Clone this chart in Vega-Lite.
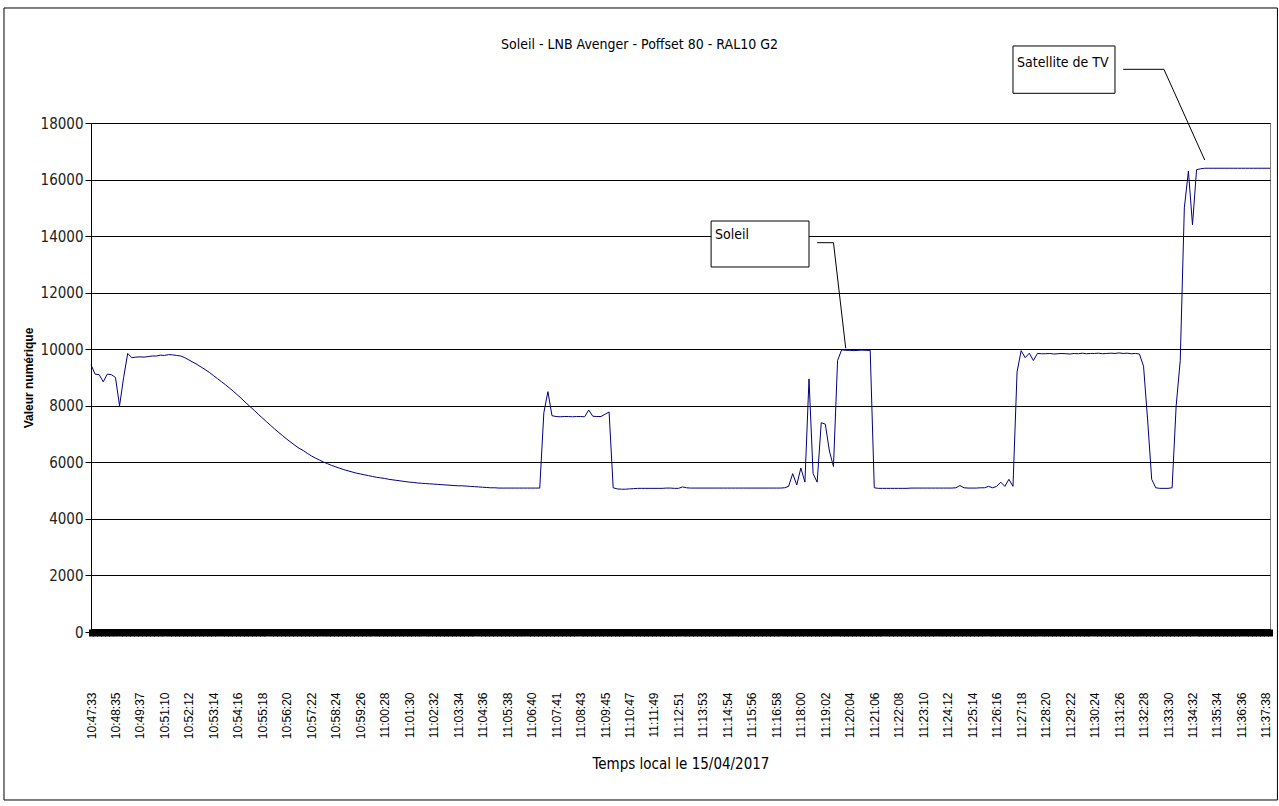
{
  "$schema": "https://vega.github.io/schema/vega-lite/v6.json",
  "width": 1179,
  "height": 509,
  "autosize": {"type": "none"},
  "padding": {"left": 91, "top": 123, "right": 9, "bottom": 174},
  "background": "white",
  "config": {
    "view": {"stroke": "#808080", "strokeWidth": 1},
    "font": "Liberation Sans"
  },
  "title": {
    "text": "Soleil - LNB Avenger - Poffset 80 - RAL10 G2",
    "anchor": "middle",
    "frame": "group",
    "offset": 0,
    "dx": -41,
    "dy": 45,
    "font": "'Liberation Sans Narrow', 'DejaVu Sans Condensed', sans-serif",
    "fontSize": 14,
    "fontWeight": "normal",
    "color": "#000"
  },
  "datasets": {
    "series": [
      {"t":"10:47:33","v":9450},{"t":"10:47:43","v":9120},{"t":"10:47:54","v":9100},{"t":"10:48:04","v":8850},{"t":"10:48:14","v":9120},{"t":"10:48:25","v":9100},
      {"t":"10:48:35","v":9000},{"t":"10:48:45","v":8000},{"t":"10:48:56","v":9000},{"t":"10:49:06","v":9850},{"t":"10:49:16","v":9700},{"t":"10:49:27","v":9720},
      {"t":"10:49:37","v":9730},{"t":"10:49:53","v":9720},{"t":"10:50:08","v":9740},{"t":"10:50:24","v":9760},{"t":"10:50:39","v":9760},{"t":"10:50:55","v":9790},
      {"t":"10:51:10","v":9780},{"t":"10:51:20","v":9810},{"t":"10:51:31","v":9800},{"t":"10:51:41","v":9780},{"t":"10:51:51","v":9760},{"t":"10:52:02","v":9700},
      {"t":"10:52:12","v":9620},{"t":"10:52:22","v":9540},{"t":"10:52:33","v":9460},{"t":"10:52:43","v":9370},{"t":"10:52:53","v":9280},{"t":"10:53:04","v":9180},
      {"t":"10:53:14","v":9070},{"t":"10:53:24","v":8960},{"t":"10:53:35","v":8850},{"t":"10:53:45","v":8740},{"t":"10:53:55","v":8620},{"t":"10:54:06","v":8500},
      {"t":"10:54:16","v":8370},{"t":"10:54:26","v":8240},{"t":"10:54:37","v":8100},{"t":"10:54:47","v":7970},{"t":"10:54:57","v":7840},{"t":"10:55:08","v":7700},
      {"t":"10:55:18","v":7570},{"t":"10:55:28","v":7440},{"t":"10:55:39","v":7310},{"t":"10:55:49","v":7180},{"t":"10:55:59","v":7060},{"t":"10:56:10","v":6940},
      {"t":"10:56:20","v":6820},{"t":"10:56:30","v":6710},{"t":"10:56:41","v":6600},{"t":"10:56:51","v":6500},{"t":"10:57:01","v":6420},{"t":"10:57:12","v":6320},
      {"t":"10:57:22","v":6230},{"t":"10:57:32","v":6150},{"t":"10:57:43","v":6080},{"t":"10:57:53","v":6010},{"t":"10:58:03","v":5950},{"t":"10:58:14","v":5890},
      {"t":"10:58:24","v":5840},{"t":"10:58:34","v":5790},{"t":"10:58:45","v":5740},{"t":"10:58:55","v":5700},{"t":"10:59:05","v":5660},{"t":"10:59:16","v":5620},
      {"t":"10:59:26","v":5590},{"t":"10:59:36","v":5560},{"t":"10:59:47","v":5530},{"t":"10:59:57","v":5500},{"t":"11:00:07","v":5470},{"t":"11:00:18","v":5450},
      {"t":"11:00:28","v":5430},{"t":"11:00:38","v":5400},{"t":"11:00:49","v":5380},{"t":"11:00:59","v":5360},{"t":"11:01:09","v":5340},{"t":"11:01:20","v":5320},
      {"t":"11:01:30","v":5300},{"t":"11:01:40","v":5290},{"t":"11:01:51","v":5270},{"t":"11:02:01","v":5260},{"t":"11:02:11","v":5250},{"t":"11:02:22","v":5240},
      {"t":"11:02:32","v":5230},{"t":"11:02:42","v":5220},{"t":"11:02:53","v":5210},{"t":"11:03:03","v":5200},{"t":"11:03:13","v":5190},{"t":"11:03:24","v":5180},
      {"t":"11:03:34","v":5170},{"t":"11:03:44","v":5170},{"t":"11:03:55","v":5160},{"t":"11:04:05","v":5150},{"t":"11:04:15","v":5140},{"t":"11:04:26","v":5130},
      {"t":"11:04:36","v":5120},{"t":"11:04:46","v":5110},{"t":"11:04:57","v":5100},{"t":"11:05:07","v":5100},{"t":"11:05:17","v":5090},{"t":"11:05:28","v":5090},
      {"t":"11:05:38","v":5090},{"t":"11:05:48","v":5090},{"t":"11:05:59","v":5090},{"t":"11:06:09","v":5090},{"t":"11:06:19","v":5090},{"t":"11:06:30","v":5090},
      {"t":"11:06:40","v":5090},{"t":"11:06:50","v":5090},{"t":"11:07:00","v":5090},{"t":"11:07:11","v":7750},{"t":"11:07:21","v":8500},{"t":"11:07:31","v":7650},
      {"t":"11:07:41","v":7620},{"t":"11:07:51","v":7610},{"t":"11:08:02","v":7620},{"t":"11:08:12","v":7620},{"t":"11:08:22","v":7610},{"t":"11:08:33","v":7620},
      {"t":"11:08:43","v":7620},{"t":"11:08:53","v":7610},{"t":"11:09:04","v":7850},{"t":"11:09:14","v":7630},{"t":"11:09:24","v":7620},{"t":"11:09:35","v":7620},
      {"t":"11:09:45","v":7700},{"t":"11:09:55","v":7780},{"t":"11:10:06","v":5100},{"t":"11:10:16","v":5060},{"t":"11:10:26","v":5050},{"t":"11:10:37","v":5050},
      {"t":"11:10:47","v":5060},{"t":"11:10:57","v":5070},{"t":"11:11:08","v":5080},{"t":"11:11:18","v":5080},{"t":"11:11:28","v":5080},{"t":"11:11:39","v":5080},
      {"t":"11:11:49","v":5080},{"t":"11:11:59","v":5080},{"t":"11:12:10","v":5080},{"t":"11:12:20","v":5090},{"t":"11:12:30","v":5090},{"t":"11:12:41","v":5080},
      {"t":"11:12:51","v":5080},{"t":"11:13:01","v":5130},{"t":"11:13:12","v":5100},{"t":"11:13:22","v":5090},{"t":"11:13:32","v":5090},{"t":"11:13:43","v":5090},
      {"t":"11:13:53","v":5090},{"t":"11:14:03","v":5090},{"t":"11:14:13","v":5090},{"t":"11:14:24","v":5090},{"t":"11:14:34","v":5090},{"t":"11:14:44","v":5090},
      {"t":"11:14:54","v":5090},{"t":"11:15:04","v":5090},{"t":"11:15:15","v":5090},{"t":"11:15:25","v":5090},{"t":"11:15:35","v":5090},{"t":"11:15:46","v":5090},
      {"t":"11:15:56","v":5090},{"t":"11:16:06","v":5090},{"t":"11:16:17","v":5090},{"t":"11:16:27","v":5090},{"t":"11:16:37","v":5090},{"t":"11:16:48","v":5090},
      {"t":"11:16:58","v":5090},{"t":"11:17:08","v":5090},{"t":"11:17:19","v":5100},{"t":"11:17:29","v":5150},{"t":"11:17:39","v":5600},{"t":"11:17:50","v":5200},
      {"t":"11:18:00","v":5800},{"t":"11:18:10","v":5300},{"t":"11:18:21","v":8950},{"t":"11:18:31","v":5600},{"t":"11:18:41","v":5300},{"t":"11:18:52","v":7400},
      {"t":"11:19:02","v":7350},{"t":"11:19:12","v":6400},{"t":"11:19:23","v":5850},{"t":"11:19:33","v":9600},{"t":"11:19:43","v":9980},{"t":"11:19:54","v":9960},
      {"t":"11:20:04","v":9960},{"t":"11:20:14","v":9950},{"t":"11:20:25","v":9960},{"t":"11:20:35","v":9970},{"t":"11:20:45","v":9960},{"t":"11:20:56","v":9960},
      {"t":"11:21:06","v":5100},{"t":"11:21:16","v":5080},{"t":"11:21:27","v":5080},{"t":"11:21:37","v":5080},{"t":"11:21:47","v":5080},{"t":"11:21:58","v":5080},
      {"t":"11:22:08","v":5080},{"t":"11:22:18","v":5080},{"t":"11:22:29","v":5080},{"t":"11:22:39","v":5090},{"t":"11:22:49","v":5090},{"t":"11:23:00","v":5090},
      {"t":"11:23:10","v":5090},{"t":"11:23:20","v":5090},{"t":"11:23:31","v":5090},{"t":"11:23:41","v":5090},{"t":"11:23:51","v":5090},{"t":"11:24:02","v":5090},
      {"t":"11:24:12","v":5090},{"t":"11:24:22","v":5090},{"t":"11:24:33","v":5100},{"t":"11:24:43","v":5180},{"t":"11:24:53","v":5100},{"t":"11:25:04","v":5090},
      {"t":"11:25:14","v":5090},{"t":"11:25:24","v":5090},{"t":"11:25:35","v":5100},{"t":"11:25:45","v":5100},{"t":"11:25:55","v":5150},{"t":"11:26:06","v":5100},
      {"t":"11:26:16","v":5150},{"t":"11:26:26","v":5300},{"t":"11:26:37","v":5150},{"t":"11:26:47","v":5400},{"t":"11:26:57","v":5150},{"t":"11:27:08","v":9200},
      {"t":"11:27:18","v":9950},{"t":"11:27:28","v":9700},{"t":"11:27:39","v":9860},{"t":"11:27:49","v":9600},{"t":"11:27:59","v":9850},{"t":"11:28:10","v":9840},
      {"t":"11:28:20","v":9840},{"t":"11:28:30","v":9850},{"t":"11:28:41","v":9830},{"t":"11:28:51","v":9840},{"t":"11:29:01","v":9850},{"t":"11:29:12","v":9840},
      {"t":"11:29:22","v":9830},{"t":"11:29:32","v":9850},{"t":"11:29:43","v":9840},{"t":"11:29:53","v":9860},{"t":"11:30:03","v":9840},{"t":"11:30:14","v":9850},
      {"t":"11:30:24","v":9850},{"t":"11:30:34","v":9860},{"t":"11:30:45","v":9840},{"t":"11:30:55","v":9850},{"t":"11:31:05","v":9860},{"t":"11:31:16","v":9850},
      {"t":"11:31:26","v":9870},{"t":"11:31:36","v":9850},{"t":"11:31:47","v":9860},{"t":"11:31:57","v":9840},{"t":"11:32:07","v":9850},{"t":"11:32:18","v":9830},
      {"t":"11:32:28","v":9400},{"t":"11:32:38","v":7500},{"t":"11:32:49","v":5400},{"t":"11:32:59","v":5100},{"t":"11:33:09","v":5080},{"t":"11:33:20","v":5080},
      {"t":"11:33:30","v":5080},{"t":"11:33:40","v":5100},{"t":"11:33:51","v":8000},{"t":"11:34:01","v":9600},{"t":"11:34:11","v":15000},{"t":"11:34:22","v":16300},
      {"t":"11:34:32","v":14400},{"t":"11:34:42","v":16350},{"t":"11:34:53","v":16380},{"t":"11:35:03","v":16400},{"t":"11:35:13","v":16400},{"t":"11:35:24","v":16400},
      {"t":"11:35:34","v":16400},{"t":"11:35:44","v":16400},{"t":"11:35:55","v":16400},{"t":"11:36:05","v":16400},{"t":"11:36:15","v":16400},{"t":"11:36:26","v":16400},
      {"t":"11:36:36","v":16400},{"t":"11:36:46","v":16400},{"t":"11:36:57","v":16400},{"t":"11:37:07","v":16400},{"t":"11:37:17","v":16400},{"t":"11:37:28","v":16400},
      {"t":"11:37:38","v":16400},{"t":"11:37:48","v":16400}
    ],
    "leaders": [
      {"t":"11:18:41","t2":"11:19:23","v":13767,"v2":13767},
      {"t":"11:19:23","t2":"11:19:54","v":13767,"v2":10032},
      {"t":"11:31:36","t2":"11:33:20","v":19899,"v2":19899},
      {"t":"11:33:20","t2":"11:35:03","v":19899,"v2":16691}
    ],
    "boxes": [
      {"t":"11:14:13","t2":"11:18:21","v":14534,"v2":12908,"ty":14287,"label":"Soleil"},
      {"t":"11:26:57","t2":"11:31:16","v":20723,"v2":19050,"ty":20369,"label":"Satellite de TV"}
    ],
    "frame": [
      {"bx":-0.0738,"bx2":1.0063,"v":22067,"v2":-5941}
    ]
  },
  "resolve": {"scale": {"x": "independent"}, "axis": {"x": "independent"}},
  "layer": [
    {
      "layer": [
        {
          "data": {"name": "series"},
          "mark": {"type": "line", "color": "#000080", "strokeWidth": 1},
          "encoding": {
            "x": {
              "field": "t", "type": "ordinal",
              "scale": {"type": "point", "padding": 0},
              "title": "Temps local le 15/04/2017",
              "axis": {
                "labelAngle": -90,
                "labelExpr": "round(datum.index * 289) % 6 == 0 ? datum.label : ''",
                "labelOverlap": false,
                "labelBound": false,
                "labelFont": "Liberation Sans",
                "labelFontSize": 12,
                "labelColor": "#000",
                "labelPadding": 56,
                "ticks": true,
                "tickSize": 7,
                "tickWidth": 5,
                "tickColor": "#000",
                "domainColor": "#000",
                "domainWidth": 1,
                "offset": -3,
                "grid": false,
                "titleFont": "'Liberation Sans Narrow', 'DejaVu Sans Condensed', sans-serif",
                "titleFontSize": 15,
                "titleFontWeight": "normal",
                "titleColor": "#000",
                "titlePadding": 18
              }
            },
            "y": {
              "field": "v", "type": "quantitative",
              "scale": {"domain": [0, 18000], "nice": false},
              "title": "Valeur numérique",
              "axis": {
                "values": [0, 2000, 4000, 6000, 8000, 10000, 12000, 14000, 16000, 18000],
                "format": "d",
                "grid": true,
                "gridColor": "#000",
                "gridWidth": 1,
                "gridOpacity": 1,
                "domainColor": "#000",
                "tickColor": "#000",
                "tickSize": 6,
                "labelPadding": 2,
                "labelFont": "'Liberation Sans Narrow', 'DejaVu Sans Condensed', sans-serif",
                "labelFontSize": 15,
                "labelColor": "#222",
                "titleFont": "Liberation Sans",
                "titleFontWeight": "bold",
                "titleFontSize": 12,
                "titleColor": "#000",
                "titlePadding": 5
              }
            }
          }
        },
        {
          "data": {"name": "leaders"},
          "mark": {"type": "rule", "color": "#000", "strokeWidth": 1},
          "encoding": {
            "x": {"field": "t", "type": "ordinal", "scale": {"type": "point", "padding": 0}},
            "x2": {"field": "t2"},
            "y": {"field": "v", "type": "quantitative"},
            "y2": {"field": "v2"}
          }
        },
        {
          "data": {"name": "boxes"},
          "mark": {"type": "rect", "fill": "white", "stroke": "#000", "strokeWidth": 1},
          "encoding": {
            "x": {"field": "t", "type": "ordinal", "scale": {"type": "point", "padding": 0}},
            "x2": {"field": "t2"},
            "y": {"field": "v", "type": "quantitative"},
            "y2": {"field": "v2"}
          }
        },
        {
          "data": {"name": "boxes"},
          "mark": {
            "type": "text", "align": "left", "baseline": "top", "dx": 4,
            "font": "'Liberation Sans Narrow', 'DejaVu Sans Condensed', sans-serif",
            "fontSize": 14, "color": "#000"
          },
          "encoding": {
            "x": {"field": "t", "type": "ordinal", "scale": {"type": "point", "padding": 0}},
            "y": {"field": "ty", "type": "quantitative"},
            "text": {"field": "label"}
          }
        }
      ]
    },
    {
      "data": {"name": "frame"},
      "mark": {"type": "rect", "fillOpacity": 0, "stroke": "#000", "strokeWidth": 1},
      "encoding": {
        "x": {"field": "bx", "type": "quantitative", "scale": {"domain": [0, 1], "nice": false, "zero": false}, "axis": null},
        "x2": {"field": "bx2"},
        "y": {"field": "v", "type": "quantitative"},
        "y2": {"field": "v2"}
      }
    }
  ]
}
